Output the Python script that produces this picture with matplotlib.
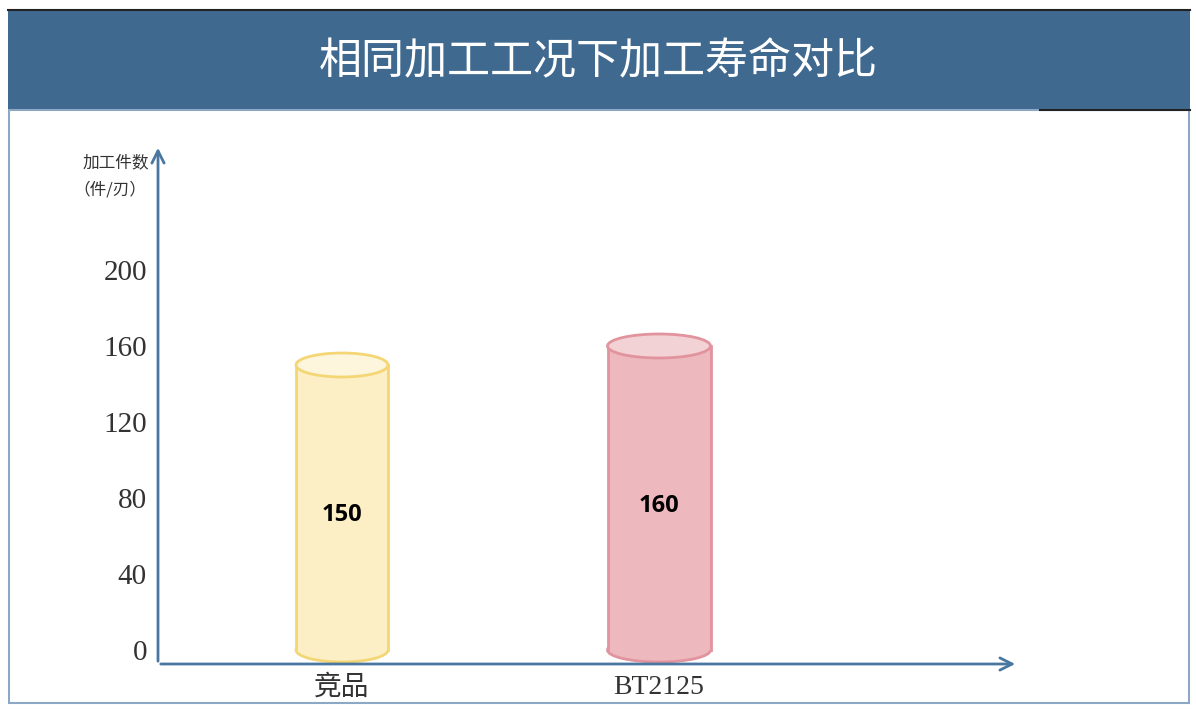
import matplotlib.pyplot as plt
from matplotlib.patches import Rectangle, Ellipse

# data
categories = ['竞品', 'BT2125']
values = [150, 160]
yticks = [0, 40, 80, 120, 160, 200]

W, H = 1196, 716
fig = plt.figure(figsize=(W / 100, H / 100), dpi=100)
fig.patch.set_facecolor('white')

def fx(px):
    return px / W

def fy(py):
    return 1 - py / H

# header band
fig.patches.append(Rectangle((fx(8), fy(110)), fx(1182), 100 / H, transform=fig.transFigure,
                             facecolor='#40698F', edgecolor='none', zorder=0))
fig.add_artist(plt.Line2D([fx(8), fx(1190)], [fy(10), fy(10)], color='#222222', lw=1.5))
fig.add_artist(plt.Line2D([fx(1040), fx(1190)], [fy(110), fy(110)], color='#222222', lw=1.5))
# panel border
fig.patches.append(Rectangle((fx(9), fy(703)), fx(1180), 593 / H, transform=fig.transFigure,
                             facecolor='none', edgecolor='#8DA8C4', lw=1.5, zorder=0))

fig.text(0.5, fy(62), '相同加工工况下加工寿命对比', color='white', fontsize=31, fontweight='medium',
         family=['Noto Sans CJK SC', 'DejaVu Sans'], ha='center', va='center')

# axes placed in pixel space
left, right, bottom, top = 158, 1018, 664, 145
ax = fig.add_axes([fx(left), fy(bottom), (right - left) / W, (bottom - top) / H])
ax.set_facecolor('none')
px_per_unit = 1.9
zero_px = 650
ax.set_ylim((zero_px - bottom) / px_per_unit, (zero_px - top) / px_per_unit)
xunit = 317
ax.set_xlim(-(342 - left) / xunit, 1 + (right - 659) / xunit)

for s in ax.spines.values():
    s.set_visible(False)

axis_col = '#4A77A0'
ax.annotate('', xy=(0, 1), xytext=(0, 0), xycoords='axes fraction',
            arrowprops=dict(arrowstyle='->', color=axis_col, lw=2, mutation_scale=22))
ax.annotate('', xy=(1, 0), xytext=(0, 0), xycoords='axes fraction',
            arrowprops=dict(arrowstyle='->', color=axis_col, lw=2, mutation_scale=22))

ax.set_yticks(yticks)
ax.set_yticklabels([str(t) for t in yticks], family='Liberation Serif', fontsize=21, color='#333333')
ax.set_xticks(range(len(categories)))
ax.set_xticklabels(categories, family=['Liberation Serif', 'Noto Sans CJK SC'], fontsize=20, color='#333333')
ax.tick_params(axis='y', length=0, pad=8)
ax.tick_params(axis='x', length=0, pad=8)

# cylinders
body_cols = ['#FCEFC6', '#EDB8BE']
top_cols = ['#FDF5DC', '#F3D2D6']
edge_cols = ['#F4D675', '#E1949D']
widths = [92 / xunit, 103 / xunit]
ell_h = 24 / px_per_unit

for i, v in enumerate(values):
    w = widths[i]
    ax.add_patch(Ellipse((i, 0), w, ell_h, facecolor=body_cols[i], edgecolor=edge_cols[i], lw=2,
                         zorder=2, clip_on=False))
    ax.add_patch(Rectangle((i - w / 2, 0), w, v, facecolor=body_cols[i], edgecolor='none', zorder=3,
                           clip_on=False))
    ax.plot([i - w / 2, i - w / 2], [0, v], color=edge_cols[i], lw=2, zorder=4)
    ax.plot([i + w / 2, i + w / 2], [0, v], color=edge_cols[i], lw=2, zorder=4)
    ax.add_patch(Ellipse((i, v), w, ell_h, facecolor=top_cols[i], edgecolor=edge_cols[i], lw=2, zorder=5))
    ax.text(i, v * 0.475, str(v), ha='center', va='center', fontsize=17, fontweight='bold',
            family='Open Sans', color='black', zorder=6)

# y axis caption
fig.text(fx(116), fy(163), '加工件数', fontsize=12, family=['Noto Sans CJK SC'], color='#333333',
         ha='center', va='center')
fig.text(fx(110), fy(190), '（件/刃）', fontsize=12, family=['Noto Sans CJK SC'], color='#333333',
         ha='center', va='center')

fig.savefig('out.png', dpi=100)
